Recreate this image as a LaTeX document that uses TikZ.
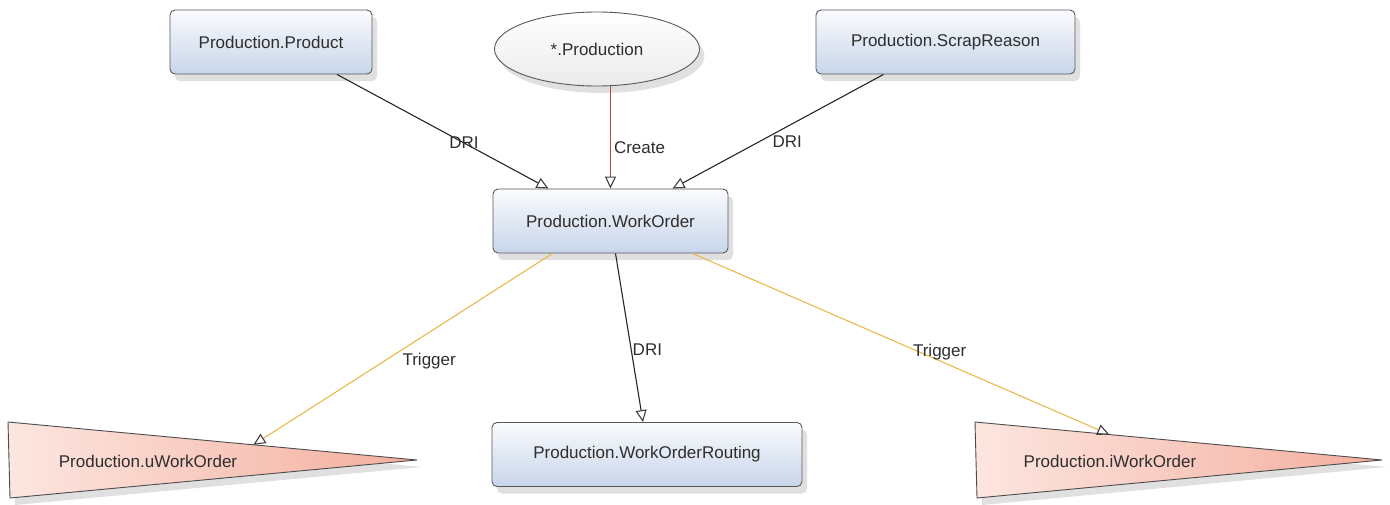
\documentclass[tikz,border=0pt]{standalone}
\usepackage{fontspec}
\setmainfont{Liberation Sans}
\usepackage{tikz}
\usetikzlibrary{arrows.meta, positioning, calc, shapes.geometric, shadows}
\usepackage{xcolor}
\definecolor{kastenoben}{HTML}{FAFBFD}
\definecolor{kastenunten}{HTML}{C8D5EA}
\definecolor{dreieckli}{HTML}{FCE6E0}
\definecolor{dreieckre}{HTML}{F4AE9E}
\definecolor{createrot}{HTML}{B24A4A}
\definecolor{triggergelb}{HTML}{E9B84C}
\definecolor{schrift}{HTML}{2E2E2E}
\tikzset{>=Latex}

\begin{document}
\begin{tikzpicture}[x=1pt, y=-1pt,
    >={Triangle[open, length=12pt, width=11pt, color=black!75]},
    schatten/.style={drop shadow={shadow xshift=5pt, shadow yshift=-7pt, opacity=.2, fill=black!60}},
    tabelle/.style={draw=black!65, line width=0.9pt, rounded corners=5pt,
        top color=kastenoben, bottom color=kastenunten, minimum height=64pt,
        schatten, text=schrift, font=\fontsize{17}{20}\selectfont},
    schema/.style={ellipse, draw=black!65, line width=0.9pt, top color=white,
        bottom color=black!8, minimum width=205pt, minimum height=74pt,
        schatten, text=schrift, font=\fontsize{17}{20}\selectfont},
    trig/.style={draw=black!70, line width=0.9pt, left color=dreieckli,
        right color=dreieckre, schatten},
    dri/.style={draw=black!85, line width=1.1pt},
    create/.style={draw=createrot, line width=1.1pt},
    trigger/.style={draw=triggergelb, line width=1.1pt},
    beschr/.style={font=\fontsize{17}{20}\selectfont, text=schrift, inner sep=1pt}]

    \useasboundingbox (0,0) rectangle (1390,504);

    % Tabellen oben
    \node[tabelle, minimum width=202pt] (prod) at (271,42) {Production.Product};
    \node[schema] (ell) at (597,49) {*.Production};
    \node[tabelle, minimum width=259pt] (scrap) at (945.5,42) {Production.ScrapReason};

    % mittlere Tabelle
    \node[tabelle, minimum width=235pt] (wo) at (610.5,221) {Production.WorkOrder};

    % untere Tabelle
    \node[tabelle, minimum width=310pt] (rout) at (647,454.5) {Production.WorkOrderRouting};

    % Trigger als Dreiecke
    \coordinate (u1) at (8,422);
    \coordinate (u2) at (417,460);
    \coordinate (u3) at (10,498);
    \path[trig] (u1) -- (u2) -- (u3) -- cycle;
    \node[beschr] (uwo) at (148,461) {Production.uWorkOrder};
    \coordinate (uziel) at ($(u1)!0.6!(u2)$);

    \coordinate (i1) at (975,422);
    \coordinate (i2) at (1382,460);
    \coordinate (i3) at (977,498);
    \path[trig] (i1) -- (i2) -- (i3) -- cycle;
    \node[beschr] (iwo) at (1110,461) {Production.iWorkOrder};
    \coordinate (iziel) at ($(i1)!0.33!(i2)$);

    % Pfeile nach WorkOrder
    \draw[dri, ->] ([xshift=66pt]prod.south) -- ([xshift=-62pt]wo.north)
        node[beschr, pos=0.6] (ldria) {DRI};
    \draw[create, ->] (ell.south -| wo.north) -- (wo.north)
        node[beschr, pos=0.6, right, xshift=2pt] (lcreate) {Create};
    \draw[dri, ->] ([xshift=-62pt]scrap.south) -- ([xshift=62pt]wo.north)
        node[beschr, pos=0.59, right, xshift=12pt] (ldrib) {DRI};

    % Pfeile von WorkOrder
    \draw[trigger, ->] ([xshift=-58pt]wo.south) -- (uziel)
        node[beschr, pos=0.56, right, xshift=16pt] (ltriga) {Trigger};
    \draw[dri, ->] ([xshift=5pt]wo.south) -- ([xshift=-4pt]rout.north)
        node[beschr, pos=0.57, right] (ldric) {DRI};
    \draw[trigger, ->] ([xshift=82pt]wo.south) -- (iziel)
        node[beschr, pos=0.545, xshift=20pt] (ltrigb) {Trigger};

\end{tikzpicture}
\end{document}
